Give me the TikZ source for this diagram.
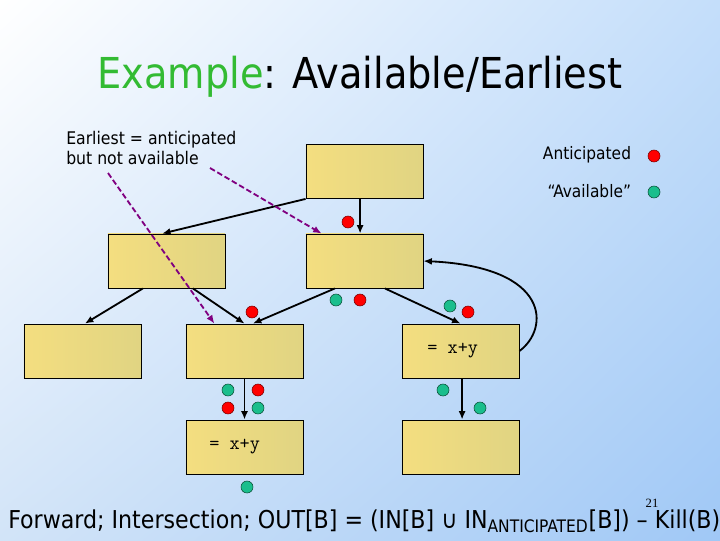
\documentclass[tikz,border=0pt]{standalone}
\usepackage{fontspec}
\setmainfont{DejaVu Sans Condensed}
\newfontfamily\numfont{Liberation Serif}
\usetikzlibrary{arrows.meta,shadings}

\definecolor{boxleft}{RGB}{244,222,128}
\definecolor{boxright}{RGB}{224,212,130}
\definecolor{hintpurple}{RGB}{128,0,128}
\definecolor{titlegreen}{RGB}{51,187,51}
\definecolor{avgreen}{RGB}{26,190,140}
\definecolor{greendark}{RGB}{10,80,55}
\definecolor{reddark}{RGB}{120,0,0}
\definecolor{bgtr}{RGB}{196,222,250}
\definecolor{bgbl}{RGB}{210,228,248}
\definecolor{bgbr}{RGB}{160,200,246}

\begin{document}
\begin{tikzpicture}
  [x=0.025cm,y=-0.025cm,
   block/.style={draw=black,line width=0.6pt,left color=boxleft,right color=boxright,
     minimum width=2.925cm,minimum height=1.35cm,inner sep=0pt},
   code/.style={font=\ttfamily\fontsize{14}{16}\selectfont},
   flow/.style={-{Latex[length=6pt,width=5pt]},line width=1.3pt},
   hint/.style={-{Latex[length=6pt,width=5pt]},line width=1.3pt,
     dash pattern=on 4pt off 2pt,color=hintpurple},
   antdot/.style={circle,draw=reddark,fill=red,minimum size=0.3cm,inner sep=0pt},
   avdot/.style={circle,draw=greendark,fill=avgreen,minimum size=0.3cm,inner sep=0pt}]

  % background
  \shade[upper left=white,upper right=bgtr,lower left=bgbl,lower right=bgbr]
    (0,0) rectangle (720,540);
  \useasboundingbox (0,0) rectangle (720,540);

  \node[anchor=base,font=\fontsize{30.3}{34}\selectfont] (title) at (360,88)
    {\textcolor{titlegreen}{Example}: Available/Earliest};

  % blocks
  \node[block] (b1) at (364.5,171.5) {};
  \node[block] (b2) at (166.5,261) {};
  \node[block] (b3) at (364.5,261) {};
  \node[block] (b4) at (82.5,351) {};
  \node[block] (b5) at (244.5,351) {};
  \node[block,code] (b6) at (460.5,351) {= x+y\hspace*{11pt}};
  \node[block,code] (b7) at (244.5,447) {= x+y\hspace*{14pt}};
  \node[block] (b8) at (460.5,447) {};

  % edges
  \draw[flow] ([xshift=-0.11cm]b1.south) -- ([xshift=-0.11cm]b3.north);
  \draw[flow] (b1.south west) -- ([xshift=-0.11cm]b2.north);
  \draw[flow] ([xshift=-0.59cm]b2.south) -- ([xshift=0.06cm]b4.north);
  \draw[flow] ([xshift=0.66cm]b2.south) -- (b5.north);
  \draw[flow] ([xshift=-0.74cm]b3.south) -- ([xshift=0.21cm]b5.north);
  \draw[flow] ([xshift=0.51cm]b3.south) -- (b6.north);
  \draw[flow] (b6.east) .. controls +(30,-22) and +(128,6) .. (b3.east);
  \draw[flow] (b5.south) -- (b7.north);
  \draw[flow] ([xshift=0.04cm]b6.south) -- ([xshift=0.04cm]b8.north);

  % note
  \node[anchor=north west,align=left,inner sep=0pt,font=\fontsize{12.4}{14.5}\selectfont] (note) at (66,131)
    {Earliest = anticipated\\but not available};
  \coordinate (e1) at (108,173);
  \coordinate (e2) at (210,168);
  \draw[hint] (e1) -- ([xshift=0.72cm]b5.north west);
  \draw[hint] (e2) -- ([xshift=0.4cm]b3.north west);

  % legend
  \node[antdot] (lant) at (654,156) {};
  \node[avdot] (lav) at (654,192) {};
  \node[anchor=east,font=\fontsize{12.2}{14}\selectfont] (tant) at (636,155) {Anticipated};
  \node[anchor=east,font=\fontsize{12.2}{14}\selectfont] (tav) at (636,191) {“Available”};

  % dots
  \node[antdot] (d1) at (348,222) {};
  \node[antdot] (d2) at (252,312) {};
  \node[avdot] (d3) at (336,300) {};
  \node[antdot] (d4) at (360,300) {};
  \node[avdot] (d5) at (450,306) {};
  \node[antdot] (d6) at (468,312) {};
  \node[avdot] (d7) at (228,390) {};
  \node[antdot] (d8) at (258,390) {};
  \node[antdot] (d9) at (228,408) {};
  \node[avdot] (d10) at (258,408) {};
  \node[avdot] (d11) at (443,390) {};
  \node[avdot] (d12) at (480,408) {};
  \node[avdot] (d13) at (247,487) {};

  % footer
  \node[anchor=base west,inner sep=0pt,font=\fontsize{17.5}{20}\selectfont] (rule) at (8,528)
    {Forward; Intersection; OUT[B] = (IN[B] ∪ IN\textsubscript{ANTICIPATED}[B]) – Kill(B)};
  \node[font=\numfont\fontsize{9}{10}\selectfont] (page) at (652,503) {21};
\end{tikzpicture}
\end{document}
